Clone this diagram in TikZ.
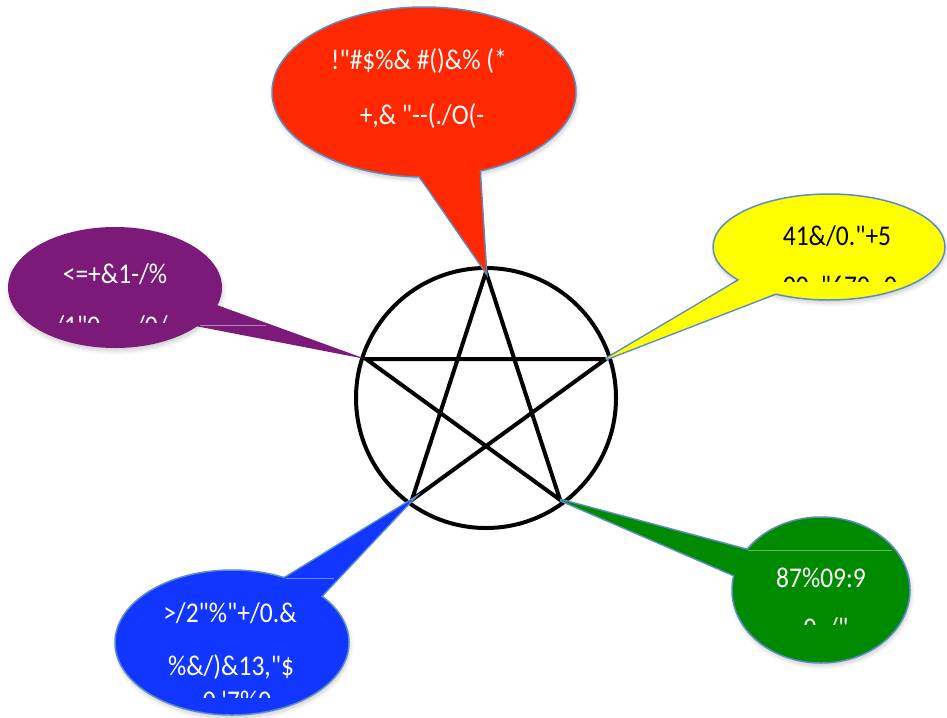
\documentclass[tikz,border=0pt]{standalone}
\usepackage{fontspec}
\usepackage{graphicx}
\newfontfamily\bfont{Carlito}
\usetikzlibrary{shapes.geometric,shadows.blur}
\definecolor{cRed}{RGB}{255,40,0}
\definecolor{cYel}{RGB}{255,255,0}
\definecolor{cPur}{RGB}{123,26,120}
\definecolor{cBlu}{RGB}{16,54,255}
\definecolor{cGrn}{RGB}{0,138,0}
\definecolor{cEdge}{RGB}{92,140,200}
\newcommand{\bt}[1]{\scalebox{1}[1.12]{#1}}
\begin{document}
\begin{tikzpicture}[x=1pt,y=-1pt,
  bub/.style={ellipse, inner sep=0pt, outer sep=0pt,
    blur shadow={shadow xshift=1pt, shadow yshift=-3pt, shadow opacity=20, shadow blur steps=8, shadow blur radius=4pt}},
  bubedge/.style={draw=cEdge, line width=1.5pt},
  tailedge/.style={draw=cEdge, line width=3pt, line join=miter},
  txt/.style={anchor=base, inner sep=0pt, font=\bfont\fontsize{25.5}{30}\selectfont},
  starline/.style={line width=4pt, line join=miter, black},
  artif/.style={line width=0.7pt}]
\useasboundingbox (0,0) rectangle (947,717);

% ---------- pentagram in circle
\node[circle, draw, line width=4pt, minimum size=260pt, inner sep=0pt] (ring) at (486,398) {};
\coordinate (vT)  at (486,272);
\coordinate (vR)  at (605.8,359.1);
\coordinate (vL)  at (366.2,359.1);
\coordinate (vBR) at (560.1,499.9);
\coordinate (vBL) at (411.9,499.9);
\draw[starline] (vT) -- (vBL) -- (vR) -- (vL) -- (vBR) -- cycle;

% ---------- red callout
\coordinate (rA) at (412,165);
\coordinate (rB) at (479,162);
\draw[tailedge] (rA) -- (vT) -- (rB);
\node[bub, bubedge, fill=cRed, minimum width=304pt, minimum height=170pt] (redE) at (424,92) {};
\fill[cRed] (rA) -- (vT) -- (rB) -- cycle;
\node[txt, text=white] (redT1) at (419,70) {\bt{!"\#\$\%\& \#()\&\% (*}};
\node[txt, text=white] (redT2) at (422,124) {\bt{+,\& "--(./O(-}};

% ---------- yellow callout
\coordinate (yA) at (753,272);
\coordinate (yB) at (787,289);
\draw[tailedge] (yA) -- (vR) -- (yB);
\node[bub, bubedge, fill=cYel, minimum width=232pt, minimum height=106pt] (yelE) at (829,247) {};
\fill[cYel] (yA) -- (vR) -- (yB) -- cycle;
\node[txt, text=black] (yelT1) at (837,245) {\bt{41\&/0."+5}};
\begin{scope}
  \clip (700,200) rectangle (947,281);
  \node[txt, text=black] (yelT2) at (840,295) {\bt{00, "670. 0}};
\end{scope}

% ---------- purple callout
\coordinate (pA) at (203,300);
\coordinate (pB) at (185,324);
\node[bub, fill=cPur, minimum width=214pt, minimum height=121pt] (purE) at (115,287.5) {};
\fill[cPur] (pA) -- (vL) -- (pB) -- cycle;
\draw[artif, cPur!55!white] (200,325) -- (266,325);
\node[txt, text=white] (purT1) at (115,283) {\bt{<=+\&1-/\%}};
\begin{scope}
  \clip (0,290) rectangle (250,322);
  \node[txt, text=white] (purT2) at (111,335) {\bt{/1"0 --- /0/}};
\end{scope}

% ---------- blue callout
\coordinate (bA) at (272,586);
\coordinate (bB) at (310,608);
\draw[tailedge] (bA) -- (vBL) -- (bB);
\node[bub, bubedge, fill=cBlu, minimum width=234pt, minimum height=145pt] (bluE) at (232,642.5) {};
\fill[cBlu] (bA) -- (vBL) -- (bB) -- cycle;
\draw[artif, cBlu!60!white] (286,578) -- (334,578);
\node[txt, text=white] (bluT1) at (230,622) {\bt{>/2"\%"+/0.\&}};
\node[txt, text=white] (bluT2) at (231,675) {\bt{\%\&/)\&13,"\$}};
\begin{scope}
  \clip (120,680) rectangle (345,697);
  \node[txt, text=white] (bluT3) at (237,710) {\bt{0 '7\%0}};
\end{scope}

% ---------- green callout
\coordinate (gA) at (762,554);
\coordinate (gB) at (750,582);
\draw[tailedge] (gA) -- (vBR) -- (gB);
\node[bub, bubedge, fill=cGrn, minimum width=178pt, minimum height=146pt] (grnE) at (821,590) {};
\fill[cGrn] (gA) -- (vBR) -- (gB) -- cycle;
\draw[artif, cGrn!60!white] (748,550) -- (892,550);
\node[txt, text=white] (grnT1) at (821,587) {\bt{87\%09:9}};
\begin{scope}
  \clip (740,600) rectangle (905,624);
  \node[txt, text=white] (grnT2) at (826,637) {\bt{0~~/"}};
\end{scope}
\end{tikzpicture}
\end{document}
